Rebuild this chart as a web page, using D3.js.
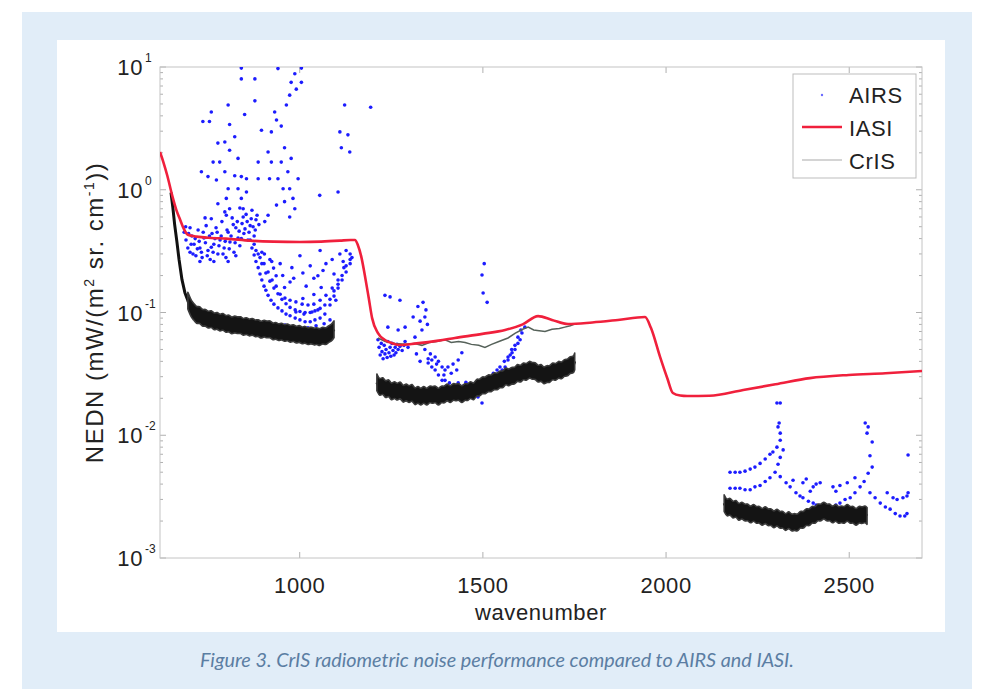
<!DOCTYPE html>
<html>
<head>
<meta charset="utf-8">
<script src="https://cdn.jsdelivr.net/npm/d3@7"></script>
<style>
  body { margin: 0; background: #fff; }
  text { font-family: "Liberation Sans", Arial, sans-serif; }
</style>
</head>
<body>
<div id="chart"></div>
<script>
var W = 988, H = 689;
var pLeft = 160, pRight = 922, pTop = 67, pBottom = 558;

// ---- data ----
var seriesNames = ["AIRS", "IASI", "CrIS"];
var xTicks = [1000, 1500, 2000, 2500];
var yTicks = [1e-3, 1e-2, 1e-1, 1, 10];
var yTickExp = ["-3", "-2", "-1", "0", "1"];

// IASI noise curve [wavenumber, NEDN]
var iasi = [
  [620, 2.03], [630, 1.65], [640, 1.3], [653, 0.905], [665, 0.68], [675, 0.57], [685, 0.48],
  [696, 0.43], [720, 0.415], [760, 0.405], [800, 0.40], [866, 0.385], [930, 0.378], [1002, 0.375],
  [1060, 0.378], [1111, 0.385], [1140, 0.39], [1152, 0.39], [1160, 0.355], [1170, 0.28],
  [1179, 0.202], [1190, 0.13], [1199, 0.090], [1215, 0.068], [1234, 0.0597], [1255, 0.056],
  [1275, 0.0543], [1320, 0.056], [1380, 0.059], [1425, 0.062], [1500, 0.067], [1562, 0.072],
  [1610, 0.080], [1652, 0.0935], [1690, 0.087], [1734, 0.0805], [1800, 0.083], [1870, 0.087],
  [1944, 0.0918], [1960, 0.075], [1985, 0.0435], [2005, 0.029], [2020, 0.0221], [2040, 0.0211],
  [2059, 0.0209], [2120, 0.021], [2212, 0.0234], [2300, 0.026], [2394, 0.0292], [2500, 0.031],
  [2600, 0.032], [2700, 0.0334]
];

// CrIS measured noise, three bands
var crisBand1 = [
  [650, 0.95], [655, 0.72], [660, 0.52], [666, 0.38], [672, 0.27], [680, 0.185], [688, 0.145],
  [696, 0.125], [705, 0.107], [712, 0.102], [720, 0.094], [728, 0.097], [736, 0.089], [744, 0.092],
  [752, 0.086], [760, 0.090], [768, 0.083], [776, 0.087], [784, 0.081], [792, 0.086], [800, 0.079],
  [808, 0.083], [816, 0.077], [824, 0.081], [832, 0.078], [840, 0.080], [848, 0.075], [856, 0.079],
  [864, 0.074], [872, 0.078], [880, 0.073], [888, 0.076], [896, 0.071], [904, 0.075], [912, 0.072],
  [920, 0.074], [928, 0.069], [936, 0.072], [944, 0.068], [952, 0.071], [960, 0.067], [968, 0.070],
  [976, 0.066], [984, 0.069], [992, 0.065], [1000, 0.068], [1008, 0.064], [1016, 0.067], [1024, 0.063],
  [1032, 0.066], [1040, 0.063], [1048, 0.065], [1056, 0.062], [1064, 0.066], [1072, 0.063],
  [1080, 0.067], [1088, 0.068], [1095, 0.073]
];
var crisBand2 = [
  [1212, 0.027], [1220, 0.024], [1228, 0.026], [1236, 0.023], [1244, 0.025], [1252, 0.022],
  [1260, 0.024], [1268, 0.022], [1276, 0.024], [1284, 0.021], [1292, 0.023], [1300, 0.021],
  [1308, 0.023], [1316, 0.020], [1324, 0.022], [1332, 0.020], [1340, 0.022], [1348, 0.020],
  [1356, 0.022], [1364, 0.021], [1372, 0.022], [1380, 0.020], [1388, 0.022], [1396, 0.021],
  [1404, 0.023], [1412, 0.021], [1420, 0.023], [1428, 0.022], [1436, 0.023], [1444, 0.021],
  [1452, 0.023], [1460, 0.022], [1468, 0.024], [1476, 0.022], [1484, 0.025], [1492, 0.024],
  [1500, 0.026], [1508, 0.025], [1516, 0.027], [1524, 0.026], [1532, 0.028], [1540, 0.027],
  [1548, 0.029], [1556, 0.028], [1564, 0.031], [1572, 0.029], [1580, 0.031], [1588, 0.030],
  [1596, 0.033], [1604, 0.031], [1612, 0.034], [1620, 0.032], [1628, 0.035], [1636, 0.033],
  [1644, 0.034], [1652, 0.031], [1660, 0.033], [1668, 0.030], [1676, 0.032], [1684, 0.031],
  [1692, 0.034], [1700, 0.032], [1708, 0.035], [1716, 0.033], [1724, 0.036], [1732, 0.035],
  [1740, 0.038], [1748, 0.037], [1752, 0.040]
];
var crisBand3 = [
  [2160, 0.0028], [2168, 0.0025], [2176, 0.0027], [2184, 0.0024], [2192, 0.0026], [2200, 0.0023],
  [2208, 0.0025], [2216, 0.0023], [2224, 0.0024], [2232, 0.0022], [2240, 0.0024], [2248, 0.0022],
  [2256, 0.0023], [2264, 0.0021], [2272, 0.0023], [2280, 0.0021], [2288, 0.0022], [2296, 0.0020],
  [2304, 0.0022], [2312, 0.0020], [2320, 0.0021], [2328, 0.0019], [2336, 0.0021], [2344, 0.0019],
  [2352, 0.0020], [2360, 0.0019], [2368, 0.0021], [2376, 0.0020], [2384, 0.0022], [2392, 0.0021],
  [2400, 0.0023], [2408, 0.0022], [2416, 0.0024], [2424, 0.0023], [2432, 0.0025], [2440, 0.0023],
  [2448, 0.0024], [2456, 0.0022], [2464, 0.0024], [2472, 0.0022], [2480, 0.0023], [2488, 0.0022],
  [2496, 0.0024], [2504, 0.0022], [2512, 0.0023], [2520, 0.0021], [2528, 0.0023], [2536, 0.0022],
  [2544, 0.0023], [2550, 0.0022]
];
// thin CrIS trace in the mid-wave band
var crisThin = [
  [1215, 0.062], [1235, 0.058], [1262, 0.056], [1290, 0.055], [1315, 0.056], [1335, 0.054],
  [1355, 0.057], [1375, 0.058], [1398, 0.060], [1415, 0.057], [1435, 0.058], [1453, 0.057],
  [1470, 0.055], [1490, 0.054], [1507, 0.052], [1525, 0.055], [1545, 0.058], [1570, 0.062],
  [1590, 0.068], [1610, 0.073], [1625, 0.076], [1640, 0.072], [1655, 0.071], [1671, 0.070],
  [1690, 0.073], [1710, 0.074], [1725, 0.076], [1740, 0.078], [1750, 0.080]
];

// AIRS channel noise (scatter)
var airs = [
  // long-wave cluster near IASI curve
  [686, 0.45], [691, 0.39], [696, 0.335], [702, 0.31], [707, 0.42], [713, 0.36], [718, 0.29],
  [724, 0.47], [729, 0.335], [735, 0.28], [740, 0.405], [746, 0.51], [751, 0.32], [757, 0.27],
  [762, 0.44], [767, 0.36], [773, 0.49], [778, 0.30], [784, 0.39], [789, 0.55], [795, 0.335],
  [800, 0.28], [806, 0.45], [811, 0.375], [817, 0.59], [822, 0.31], [827, 0.49], [833, 0.405],
  [838, 0.35], [844, 0.53], [849, 0.44], [855, 0.63], [860, 0.39], [866, 0.51], [871, 0.68],
  [877, 0.42], [882, 0.57], [729, 0.26], [767, 0.26], [806, 0.26], [827, 0.29], [702, 0.49],
  [743, 0.59], [797, 0.66], [838, 0.71],
  [690, 0.5], [698, 0.44], [705, 0.36], [710, 0.30], [716, 0.40], [722, 0.33], [727, 0.38],
  [733, 0.31], [738, 0.45], [744, 0.37], [749, 0.29], [755, 0.42], [760, 0.34], [765, 0.31],
  [770, 0.40], [776, 0.45], [781, 0.35], [787, 0.42], [792, 0.30], [798, 0.38], [803, 0.47],
  [809, 0.33], [814, 0.42], [820, 0.52], [825, 0.37], [831, 0.55], [836, 0.46], [842, 0.40],
  [847, 0.60], [852, 0.48], [858, 0.55], [863, 0.45], [869, 0.58], [874, 0.50], [880, 0.47],
  [885, 0.62], [890, 0.52],
  // sparse high-noise channels
  [755, 3.6], [760, 4.3], [737, 3.6], [806, 4.9], [810, 3.4], [842, 8.0], [851, 4.1], [879, 5.3],
  [778, 2.4], [797, 2.45], [824, 2.7], [810, 2.1], [833, 1.8], [765, 1.68], [783, 1.68], [733, 1.4],
  [751, 1.28], [774, 1.2], [797, 1.4], [824, 1.3], [842, 1.28], [856, 1.23], [806, 1.02], [833, 1.02],
  [856, 0.96], [778, 0.77], [801, 0.85], [810, 0.7], [842, 0.85], [847, 0.7], [801, 0.62], [760, 0.58],
  [879, 8.0], [888, 1.68], [897, 3.05], [915, 2.03], [924, 2.96], [933, 4.3], [938, 3.7], [951, 3.3],
  [965, 4.9], [974, 5.9], [978, 7.5], [988, 8.8], [992, 6.6], [1006, 7.5], [924, 1.68], [951, 1.68],
  [960, 2.2], [978, 1.8], [969, 1.4], [956, 1.02], [974, 1.02], [983, 0.85], [960, 0.8], [938, 0.75],
  [915, 0.62], [906, 0.55], [888, 1.23], [919, 1.23], [942, 1.23], [997, 1.23], [988, 0.7], [974, 0.6],
  [1111, 2.96], [1133, 2.8], [1115, 2.2], [1138, 2.03], [1106, 0.96], [1124, 4.9], [1056, 0.9],
  [942, 9.7], [842, 9.8], [1006, 9.8],
  // window-region arcs
  [866, 0.39], [871, 0.335], [877, 0.294], [882, 0.26], [888, 0.232], [893, 0.206], [898, 0.184],
  [904, 0.164], [909, 0.152], [915, 0.138], [923, 0.126], [931, 0.117], [942, 0.109], [953, 0.103],
  [964, 0.097], [975, 0.094], [989, 0.090], [1002, 0.087], [1016, 0.084], [1030, 0.084], [1043, 0.087],
  [1057, 0.090], [1070, 0.097], [1084, 0.115], [1095, 0.136], [1106, 0.158], [1117, 0.184],
  [1128, 0.214], [1139, 0.25], [1144, 0.28],
  [882, 0.32], [893, 0.28], [904, 0.25], [915, 0.214], [926, 0.184], [937, 0.164], [948, 0.141],
  [961, 0.131], [975, 0.126], [991, 0.122], [1008, 0.117], [1024, 0.115], [1040, 0.117], [1057, 0.126],
  [1073, 0.138], [1090, 0.158], [1106, 0.184], [1122, 0.232], [1139, 0.27],
  [877, 0.36], [888, 0.30], [898, 0.25], [909, 0.21], [920, 0.18], [931, 0.158], [942, 0.142],
  [953, 0.128], [964, 0.118], [975, 0.110], [989, 0.105], [1002, 0.102], [1016, 0.100], [1030, 0.100],
  [1043, 0.103], [1057, 0.108], [1070, 0.115], [1084, 0.128], [1095, 0.15], [1106, 0.17], [1117, 0.2],
  [1128, 0.24], [1139, 0.3],
  [961, 0.079], [980, 0.075], [1002, 0.072], [1024, 0.075], [1046, 0.078], [1068, 0.081], [1084, 0.087],
  [991, 0.101], [1013, 0.097], [1035, 0.101], [1051, 0.105],
  [898, 0.31], [920, 0.27], [948, 0.25], [980, 0.232], [1002, 0.29], [1030, 0.24], [1051, 0.199],
  [1073, 0.25], [1095, 0.206], [1111, 0.30], [1128, 0.32], [1057, 0.32], [975, 0.177], [1019, 0.164],
  [937, 0.199], [1100, 0.126],
  [905, 0.30], [930, 0.23], [955, 0.2], [985, 0.19], [1010, 0.21], [1040, 0.19], [1065, 0.22],
  [1090, 0.27], [1120, 0.26], [1010, 0.13], [1040, 0.14], [1060, 0.16], [960, 0.16], [925, 0.26],
  // mid-wave
  [1215, 0.060], [1218, 0.052], [1221, 0.045], [1224, 0.056], [1226, 0.048], [1229, 0.042],
  [1232, 0.054], [1234, 0.046], [1237, 0.050], [1240, 0.043], [1242, 0.058], [1245, 0.047],
  [1248, 0.052], [1250, 0.044], [1253, 0.056], [1256, 0.049], [1259, 0.045], [1262, 0.052],
  [1264, 0.047], [1267, 0.055], [1270, 0.050], [1275, 0.053], [1281, 0.049], [1286, 0.054], [1289, 0.058],
  [1234, 0.138], [1248, 0.134], [1242, 0.076], [1270, 0.072], [1289, 0.076], [1311, 0.092],
  [1324, 0.112], [1338, 0.121], [1343, 0.092], [1335, 0.072], [1316, 0.063], [1297, 0.052],
  [1275, 0.126], [1330, 0.085], [1346, 0.105], [1350, 0.080],
  [1343, 0.050], [1352, 0.042], [1362, 0.036], [1371, 0.034], [1380, 0.031], [1390, 0.028],
  [1398, 0.028], [1410, 0.0267], [1422, 0.025], [1434, 0.0267], [1446, 0.025], [1458, 0.0234],
  [1470, 0.0234], [1480, 0.0234], [1488, 0.0205], [1499, 0.0183],
  [1352, 0.0388], [1362, 0.041], [1371, 0.0434], [1380, 0.040], [1390, 0.036], [1398, 0.034],
  [1406, 0.036], [1420, 0.038], [1434, 0.041], [1444, 0.047], [1430, 0.034], [1415, 0.032],
  [1502, 0.025], [1515, 0.0267], [1527, 0.028], [1535, 0.0298], [1545, 0.0322], [1554, 0.034],
  [1562, 0.036], [1570, 0.041], [1576, 0.045], [1581, 0.047], [1589, 0.050], [1597, 0.056],
  [1603, 0.060], [1608, 0.068], [1616, 0.076],
  [1530, 0.032], [1548, 0.036], [1560, 0.040], [1570, 0.0434], [1580, 0.050], [1589, 0.054],
  [1597, 0.063], [1605, 0.072],
  [1320, 0.046], [1330, 0.040], [1358, 0.046], [1375, 0.038], [1395, 0.031], [1455, 0.027],
  [1475, 0.026], [1520, 0.030], [1540, 0.034], [1585, 0.043],
  [1499, 0.202], [1502, 0.144], [1513, 0.121], [1195, 4.7], [1505, 0.25],
  // short-wave
  [2176, 0.0037], [2190, 0.0037], [2203, 0.0037], [2217, 0.0036], [2231, 0.0036], [2244, 0.0038],
  [2258, 0.0039], [2272, 0.0042], [2285, 0.0045], [2299, 0.0050], [2307, 0.0058], [2313, 0.0066],
  [2321, 0.0076],
  [2176, 0.0050], [2190, 0.0050], [2203, 0.0050], [2217, 0.0051], [2231, 0.0053], [2244, 0.0055],
  [2258, 0.0059], [2272, 0.0064], [2285, 0.0070], [2293, 0.0073], [2304, 0.0080],
  [2304, 0.0183], [2313, 0.0183], [2307, 0.0117], [2313, 0.0104], [2313, 0.0091], [2310, 0.0126],
  [2313, 0.0046], [2329, 0.0041], [2340, 0.0038], [2356, 0.0034], [2367, 0.0032], [2375, 0.0031],
  [2390, 0.0029], [2403, 0.0028], [2411, 0.0027], [2422, 0.0026],
  [2348, 0.0043], [2375, 0.0041], [2384, 0.0044], [2403, 0.0038], [2411, 0.0040], [2422, 0.0041],
  [2395, 0.0035],
  [2435, 0.0026], [2449, 0.0026], [2465, 0.0027], [2476, 0.0028], [2490, 0.0030], [2504, 0.0031],
  [2517, 0.0034], [2531, 0.0038], [2542, 0.0042], [2553, 0.0049], [2564, 0.0055],
  [2457, 0.0038], [2476, 0.0039], [2496, 0.0041], [2465, 0.0035], [2517, 0.0045],
  [2545, 0.0126], [2553, 0.0117], [2550, 0.0104], [2564, 0.0088], [2558, 0.0068],
  [2558, 0.0034], [2572, 0.0031], [2586, 0.0028], [2600, 0.0026], [2613, 0.0025], [2627, 0.0023],
  [2640, 0.0022], [2653, 0.0022], [2659, 0.0023],
  [2605, 0.0034], [2621, 0.0031], [2632, 0.0030], [2648, 0.0031], [2659, 0.0032], [2662, 0.0034],
  [2662, 0.0069]
];

// ---- scales ----
var x = d3.scaleLinear().domain([620, 2700]).range([pLeft, pRight]);
var y = d3.scaleLog().domain([1e-3, 10]).range([pBottom, pTop]);

var svg = d3.select("#chart").append("svg")
  .attr("width", W)
  .attr("height", H);

var labelFont = 22, labelSpacing = "0.6px";

// page framing
svg.append("rect").attr("x", 22).attr("y", 12).attr("width", 950).attr("height", 677).attr("fill", "#e1edf8");
svg.append("rect").attr("x", 57).attr("y", 40).attr("width", 888).attr("height", 592).attr("fill", "#fff");

svg.append("defs").append("clipPath").attr("id", "plotclip")
  .append("rect").attr("x", pLeft).attr("y", pTop).attr("width", pRight - pLeft).attr("height", pBottom - pTop);

// axes (MATLAB style, ticks pointing inward)
var tickColor = "#b0b0b0";
var gx = svg.append("g")
  .attr("transform", "translate(0," + pBottom + ")")
  .call(d3.axisBottom(x).tickValues(xTicks).tickFormat(d3.format("d"))
    .tickSizeInner(-6).tickSizeOuter(0).tickPadding(19));
gx.select(".domain").remove();
gx.selectAll("line").attr("stroke", tickColor);
gx.selectAll("text").attr("font-size", labelFont).attr("fill", "#222")
  .style("letter-spacing", labelSpacing)
  .style("font-family", "Liberation Sans, Arial, sans-serif");

var gxt = svg.append("g")
  .attr("transform", "translate(0," + pTop + ")")
  .call(d3.axisTop(x).tickValues(xTicks).tickSizeInner(-6).tickSizeOuter(0).tickFormat(""));
gxt.select(".domain").remove();
gxt.selectAll("line").attr("stroke", tickColor);

var minorY = y.ticks().filter(function(d) { return yTicks.indexOf(d) < 0; });

[[pLeft, 1], [pRight, -1]].forEach(function(s) {
  var g = svg.append("g").attr("transform", "translate(" + s[0] + ",0)");
  g.selectAll("line.maj").data(yTicks).enter().append("line")
    .attr("class", "maj")
    .attr("x1", 0).attr("x2", 6 * s[1])
    .attr("y1", function(d) { return y(d); }).attr("y2", function(d) { return y(d); })
    .attr("stroke", tickColor);
  g.selectAll("line.min").data(minorY).enter().append("line")
    .attr("class", "min")
    .attr("x1", 0).attr("x2", 3 * s[1])
    .attr("y1", function(d) { return y(d); }).attr("y2", function(d) { return y(d); })
    .attr("stroke", tickColor);
});

// y tick labels 10^n
var ylab = svg.append("g");
yTicks.forEach(function(d, i) {
  ylab.append("text").attr("x", 143).attr("y", y(d) + 8)
    .attr("text-anchor", "end").attr("font-size", labelFont).attr("fill", "#222")
    .style("letter-spacing", labelSpacing).text("10");
  ylab.append("text").attr("x", 145).attr("y", y(d) - 5)
    .attr("font-size", 12).attr("fill", "#222").text(yTickExp[i]);
});

// frame
svg.append("rect").attr("x", pLeft).attr("y", pTop)
  .attr("width", pRight - pLeft).attr("height", pBottom - pTop)
  .attr("fill", "none").attr("stroke", "#c4c4c4");

// data layer
var plot = svg.append("g").attr("clip-path", "url(#plotclip)");
var line = d3.line().x(function(d) { return x(d[0]); }).y(function(d) { return y(d[1]); });

plot.selectAll("circle.airs").data(airs).enter().append("circle")
  .attr("class", "airs")
  .attr("cx", function(d) { return x(d[0]); })
  .attr("cy", function(d) { return y(d[1]); })
  .attr("r", 1.8)
  .attr("fill", "#1c1cff");

// CrIS: noisy black band (spread of the channel noise around each value)
var band = d3.area().curve(d3.curveBasis)
  .x(function(d) { return x(d[0]); })
  .y0(function(d) { return y(d[1] / 1.17); })
  .y1(function(d) { return y(d[1] * 1.17); });

[crisBand1, crisBand2, crisBand3].forEach(function(b) {
  plot.append("path").datum(b).attr("d", line)
    .attr("fill", "none").attr("stroke", "#111").attr("stroke-width", 3)
    .attr("stroke-linejoin", "round");
  plot.append("path").datum(b.filter(function(d) { return d[0] >= 696; })).attr("d", band)
    .attr("fill", "#141414").attr("stroke", "#3a3a3a").attr("stroke-width", 1.6)
    .attr("stroke-linejoin", "round");
});

plot.append("path").datum(crisThin).attr("d", line)
  .attr("fill", "none").attr("stroke", "#56625a").attr("stroke-width", 1.5);

var smooth = d3.line().curve(d3.curveMonotoneX)
  .x(function(d) { return x(d[0]); }).y(function(d) { return y(d[1]); });
plot.append("path").datum(iasi).attr("d", smooth)
  .attr("fill", "none").attr("stroke", "#f0203c").attr("stroke-width", 2.6);

// legend
var lg = svg.append("g");
lg.append("rect").attr("x", 793).attr("y", 74).attr("width", 123).attr("height", 104)
  .attr("fill", "#fff").attr("stroke", "#bdbdbd");
lg.append("circle").attr("cx", 822).attr("cy", 95).attr("r", 1.2).attr("fill", "#6a6aff");
lg.append("line").attr("x1", 802).attr("x2", 842).attr("y1", 127).attr("y2", 127)
  .attr("stroke", "#f0203c").attr("stroke-width", 2.6);
lg.append("line").attr("x1", 802).attr("x2", 842).attr("y1", 160).attr("y2", 160)
  .attr("stroke", "#aaa").attr("stroke-width", 1.2);
lg.selectAll("text").data(seriesNames).enter().append("text")
  .attr("x", 849).attr("y", function(d, i) { return 103 + i * 33; })
  .attr("font-size", labelFont).attr("fill", "#222").style("letter-spacing", labelSpacing)
  .text(function(d) { return d; });

// axis titles
svg.append("text").attr("x", (pLeft + pRight) / 2).attr("y", 620)
  .attr("text-anchor", "middle").attr("font-size", labelFont).attr("fill", "#222")
  .style("letter-spacing", labelSpacing).text("wavenumber");

var yt = svg.append("text").attr("transform", "translate(103," + ((pTop + pBottom) / 2) + ") rotate(-90)")
  .attr("text-anchor", "middle").attr("font-size", 24).attr("fill", "#222")
  .style("letter-spacing", "1.5px");
yt.append("tspan").text("NEDN (mW/(m");
yt.append("tspan").attr("dy", -9).attr("font-size", 14).text("2");
yt.append("tspan").attr("dy", 9).text(" sr. cm");
yt.append("tspan").attr("dy", -9).attr("font-size", 14).text("-1");
yt.append("tspan").attr("dy", 9).text("))");

// caption
svg.append("text").attr("x", 497).attr("y", 667)
  .attr("text-anchor", "middle").attr("font-size", 19.8).attr("font-style", "italic")
  .attr("fill", "#5b7ea3").style("font-family", "Lato, 'Open Sans', sans-serif")
  .text("Figure 3. CrIS radiometric noise performance compared to AIRS and IASI.");
</script>
</body>
</html>
